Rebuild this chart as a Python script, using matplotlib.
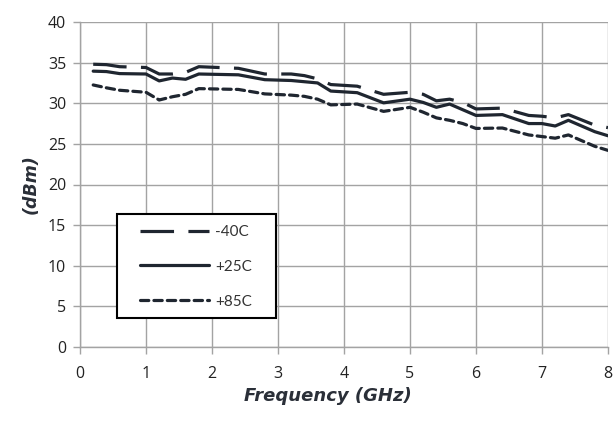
import matplotlib
matplotlib.use("Agg")
import matplotlib.pyplot as plt
from matplotlib.patches import Rectangle

# Output power vs frequency at three temperatures
freq_ghz = [0.2, 0.4, 0.6, 1.0, 1.2, 1.4, 1.6, 1.8, 2.4, 2.8, 3.2, 3.4, 3.6, 3.8,
            4.2, 4.6, 5.0, 5.2, 5.4, 5.6, 5.8, 6.0, 6.4, 6.8, 7.0, 7.2, 7.4, 7.8, 8.0]
p_m40 = [34.8, 34.75, 34.5, 34.4, 33.6, 33.6, 33.8, 34.5, 34.3, 33.6, 33.6, 33.4, 33.0, 32.3,
         32.1, 31.1, 31.35, 31.1, 30.3, 30.5, 30.1, 29.3, 29.4, 28.5, 28.4, 28.2, 28.6, 27.3, 27.0]
p_p25 = [33.95, 33.9, 33.65, 33.6, 32.75, 33.1, 32.95, 33.6, 33.5, 32.9, 32.8, 32.65, 32.5, 31.5,
         31.3, 30.05, 30.5, 30.1, 29.5, 29.9, 29.2, 28.5, 28.6, 27.5, 27.5, 27.2, 27.9, 26.5, 26.0]
p_p85 = [32.25, 31.9, 31.6, 31.35, 30.4, 30.8, 31.1, 31.8, 31.7, 31.15, 31.0, 30.85, 30.5, 29.8,
         29.9, 29.0, 29.5, 28.9, 28.2, 27.9, 27.5, 26.9, 26.95, 26.1, 25.9, 25.7, 26.1, 24.7, 24.2]
series_labels = ["-40C", "+25C", "+85C"]
x_ticks = [0, 1, 2, 3, 4, 5, 6, 7, 8]
y_ticks = [0, 5, 10, 15, 20, 25, 30, 35, 40]

line_color = "#1f2630"
grid_color = "#a3a3a3"

fig = plt.figure(figsize=(6.13, 4.22), dpi=100)
ax = fig.add_axes([80 / 613, 1 - 347 / 422, 528 / 613, 325 / 422])

lw = 2.3
ax.plot(freq_ghz, p_m40, color=line_color, lw=lw, linestyle=(0, (10.5, 4.5)),
        dash_capstyle="butt", label=series_labels[0])
ax.plot(freq_ghz, p_p25, color=line_color, lw=lw, solid_capstyle="round",
        label=series_labels[1])
ax.plot(freq_ghz, p_p85, color=line_color, lw=lw, linestyle=(0, (2.6, 1.6)),
        dash_capstyle="round", label=series_labels[2])

ax.set_xlim(0, 8)
ax.set_ylim(0, 40)
ax.set_xticks(x_ticks)
ax.set_yticks(y_ticks)
ax.grid(True, color=grid_color, lw=1.0)
ax.set_axisbelow(True)
for side in ["top", "right"]:
    ax.spines[side].set_visible(False)
for side in ["left", "bottom"]:
    ax.spines[side].set_color(grid_color)
    ax.spines[side].set_linewidth(1.0)
ax.tick_params(axis="both", direction="out", length=5, width=1.0, color=grid_color,
               labelsize=11.5, labelcolor="#222222", pad=5)
for lab in ax.get_xticklabels() + ax.get_yticklabels():
    lab.set_fontfamily("Open Sans")
ax.tick_params(axis="x", pad=9)

ax.set_xlabel("Frequency (GHz)", fontsize=13, fontweight="bold", fontstyle="italic",
              color="#2a2f38", family="DejaVu Sans")
ax.xaxis.set_label_coords((328 - 80) / 528, (347 - 387) / 325)
ax.set_ylabel("(dBm)", fontsize=12.5, fontweight="bold", fontstyle="italic",
              color="#2a2f38", family="DejaVu Sans", labelpad=6)

# legend frame drawn separately so the horizontal padding can be wider
frame = Rectangle((37 / 528, 29 / 325), 159 / 528, 104 / 325, transform=ax.transAxes,
                  facecolor="white", edgecolor="black", lw=1.5, zorder=4)
ax.add_patch(frame)
leg = ax.legend(loc="upper left", bbox_to_anchor=(60 / 528, (347 - 225) / 325),
                frameon=False, handlelength=4.5, handletextpad=0.4, labelspacing=1.36,
                borderpad=0, borderaxespad=0, prop={"family": "Lato", "size": 11})
leg.set_zorder(5)
for t in leg.get_texts():
    t.set_color("#333333")

fig.savefig("out.png", dpi=100)
